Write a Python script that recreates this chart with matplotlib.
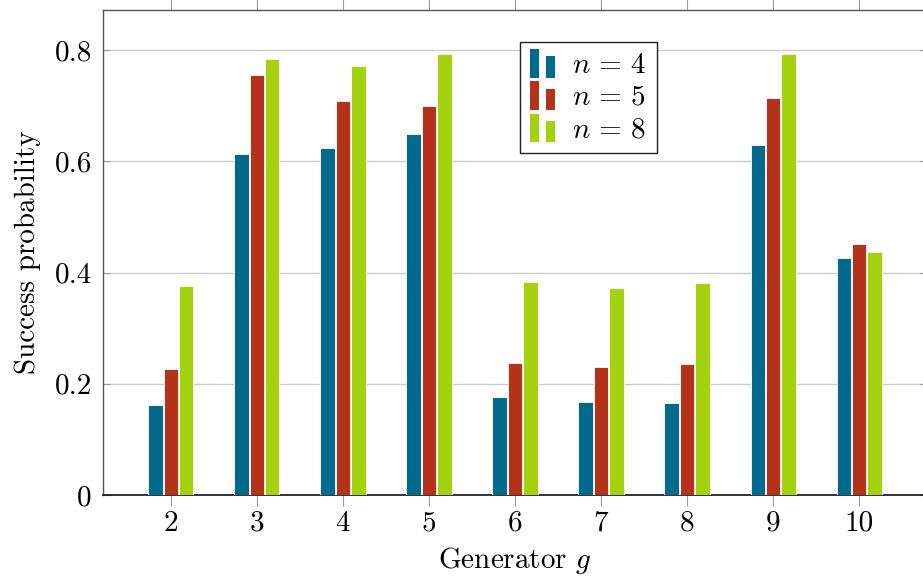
import matplotlib
matplotlib.use("Agg")
import matplotlib.pyplot as plt
import numpy as np
from matplotlib.patches import Rectangle
from matplotlib.legend_handler import HandlerBase

# ---- data ----
generators = [2, 3, 4, 5, 6, 7, 8, 9, 10]
n4 = [0.161, 0.613, 0.624, 0.649, 0.176, 0.167, 0.165, 0.629, 0.426]
n5 = [0.226, 0.755, 0.708, 0.699, 0.237, 0.230, 0.235, 0.714, 0.451]
n8 = [0.375, 0.784, 0.771, 0.793, 0.383, 0.373, 0.382, 0.793, 0.436]
series_labels = [r"$n\,=\,4$", r"$n\,=\,5$", r"$n\,=\,8$"]
ytick_vals = [0, 0.2, 0.4, 0.6, 0.8]
ytick_labels = ["0", "0.2", "0.4", "0.6", "0.8"]
xtick_labels = ["2", "3", "4", "5", "6", "7", "8", "9", "10"]

colors = ["#00698C", "#B43219", "#A5D20F"]

plt.rcParams["font.family"] = ["cmr10", "DejaVu Serif"]
plt.rcParams["mathtext.fontset"] = "cm"
plt.rcParams["axes.formatter.use_mathtext"] = True

FS = 21

W, H = 923, 585
fig = plt.figure(figsize=(W / 100, H / 100), dpi=100)
left, right, bottom, top = 103, 927, 495, 10
ax = fig.add_axes([left / W, 1 - bottom / H, (right - left) / W, (bottom - top) / H])

x = np.array(generators, dtype=float)
bw = 0.168
off = 0.178
for i, (vals, c, lab) in enumerate(zip([n4, n5, n8], colors, series_labels)):
    ax.bar(x + (i - 1) * off, vals, width=bw, color=c, edgecolor="white",
           linewidth=0.6, label=lab, zorder=3)

ax.set_xlim(1.21, 10.79)
ax.set_ylim(0, 0.872)
ax.set_xticks(generators)
ax.set_xticklabels(xtick_labels, fontsize=FS)
ax.set_yticks(ytick_vals)
ax.set_yticklabels(ytick_labels, fontsize=FS)

ax.yaxis.grid(True, color="#cccccc", linewidth=1.0, zorder=0)
ax.set_axisbelow(True)

ax.tick_params(axis="x", direction="out", length=8, width=0.8, color="#999999",
               top=True, bottom=True, pad=3)
ax.tick_params(axis="y", direction="in", length=5, width=0.8, color="#999999",
               left=True, right=True, pad=8)
for s in ["left", "top", "right"]:
    ax.spines[s].set_color("#555555")
    ax.spines[s].set_linewidth(1.0)
ax.spines["bottom"].set_color("#111111")
ax.spines["bottom"].set_linewidth(1.2)

ax.set_xlabel("Generator $g$", fontsize=FS, labelpad=6)
ax.set_ylabel("Success probability", fontsize=FS, labelpad=10)


class BarHandler(HandlerBase):
    def create_artists(self, legend, orig_handle, xdescent, ydescent, width,
                       height, fontsize, trans):
        c = orig_handle.get_facecolor()
        bwid = width * 0.37
        y0 = -ydescent - 0.25 * height
        r1 = Rectangle((-xdescent, y0), bwid, height * 1.4,
                       facecolor=c, edgecolor="none", transform=trans)
        r2 = Rectangle((-xdescent + width * 0.63, y0), bwid,
                       height * 1.05, facecolor=c, edgecolor="none", transform=trans)
        return [r1, r2]


handles, labels = ax.get_legend_handles_labels()
handles = [h.patches[0] for h in handles]
leg = ax.legend(handles, labels, handler_map={Rectangle: BarHandler()},
                loc="upper left", bbox_to_anchor=(0.506, 0.934), borderaxespad=0,
                fontsize=FS, frameon=True, fancybox=False, edgecolor="#222222",
                framealpha=1, handlelength=0.85, handletextpad=0.6,
                labelspacing=0.2, borderpad=0.35)
leg.get_frame().set_linewidth(1.0)

fig.savefig("out.png", dpi=100)
